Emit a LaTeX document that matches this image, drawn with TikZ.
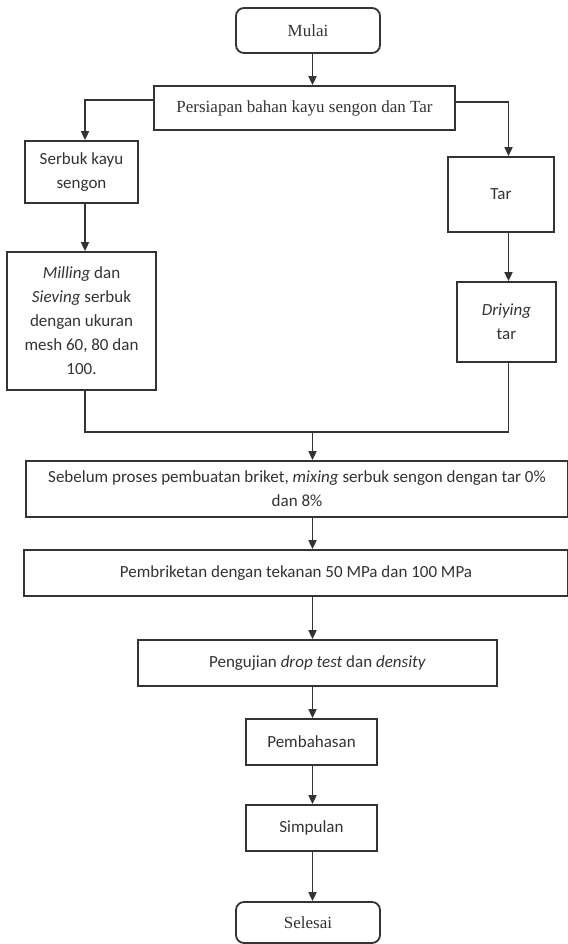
\documentclass[tikz,border=0pt]{standalone}
\usepackage{fontspec}
\setmainfont{Liberation Serif}
\newfontfamily\carlito{Carlito}
\usetikzlibrary{arrows.meta}
\tikzset{
  terminal/.style={rectangle, rounded corners=2.8mm, draw, fill=white, font={\rmfamily\fontsize{17}{22}\selectfont}},
  process/.style={rectangle, draw, fill=white, align=center, font={\carlito\fontsize{17}{24}\selectfont}},
%  decision/.style={diamond, draw, fill=white},
  flowOp/.style={-{Triangle[width=8pt,length=9pt]}}
}
\begin{document}
\begin{tikzpicture}[x=1pt, y=1pt, line width=1.8pt, color=black!80]
  \useasboundingbox (0,0) rectangle (567,-944);
  \coordinate (spine) at (312.5,0);
  \coordinate (leftcol) at (85,0);
  \coordinate (rightcol) at (508.5,0);
  \node [terminal, minimum width=144, minimum height=45] (mulai) at (308,-30.5) {Mulai};
  \node [terminal, rounded corners=0pt, minimum width=301, minimum height=44] (persiapan) at (304.5,-108) {Persiapan bahan kayu sengon dan Tar};
  \node [process, minimum width=113, minimum height=62] (serbuk) at (81.5,-172) {Serbuk kayu\\sengon};
  \node [process, minimum width=149, minimum height=138] (milling) at (81.5,-321) {\textit{Milling} dan\\\textit{Sieving} serbuk\\dengan ukuran\\mesh 60, 80 dan\\100.};
  \node [process, minimum width=106, minimum height=75] (tar) at (501,-194.5) {Tar};
  \node [process, minimum width=99, minimum height=80] (driying) at (506.5,-322) {\textit{Driying}\\tar};
  \node [process, minimum width=542, minimum height=56] (mixing) at (297,-489) {Sebelum proses pembuatan briket, \textit{mixing} serbuk sengon dengan tar 0\%\\dan 8\%};
  \node [process, minimum width=544, minimum height=46] (pembriketan) at (296,-573) {Pembriketan dengan tekanan 50 MPa dan 100 MPa};
  \node [process, minimum width=359, minimum height=46] (pengujian) at (317.5,-663) {Pengujian \textit{drop test} dan \textit{density}};
  \node [process, minimum width=131, minimum height=46] (pembahasan) at (311.5,-742) {Pembahasan};
  \node [process, minimum width=131, minimum height=46] (simpulan) at (311.5,-828) {Simpulan};
  \node [terminal, minimum width=144, minimum height=41] (selesai) at (308,-922.5) {Selesai};
  \coordinate (join) at (312.5,-432);

  \draw [flowOp] (mulai.south -| spine) -- (persiapan.north -| spine);
  \draw [flowOp] ([yshift=8]persiapan.west) -| (serbuk.north -| leftcol);
  \draw [flowOp] ([yshift=6]persiapan.east) -| (tar.north -| rightcol);
  \draw [flowOp] (serbuk.south -| leftcol) -- (milling.north -| leftcol);
  \draw [flowOp] (tar.south -| rightcol) -- (driying.north -| rightcol);
  \draw (milling.south -| leftcol) |- (join -| rightcol) -- (driying.south -| rightcol);
  \draw [flowOp] (join) -- (mixing.north -| spine);
  \foreach \a/\b in {mixing/pembriketan, pembriketan/pengujian, pengujian/pembahasan,
                     pembahasan/simpulan, simpulan/selesai}
    \draw [flowOp] (\a.south -| spine) -- (\b.north -| spine);
\end{tikzpicture}
\end{document}
